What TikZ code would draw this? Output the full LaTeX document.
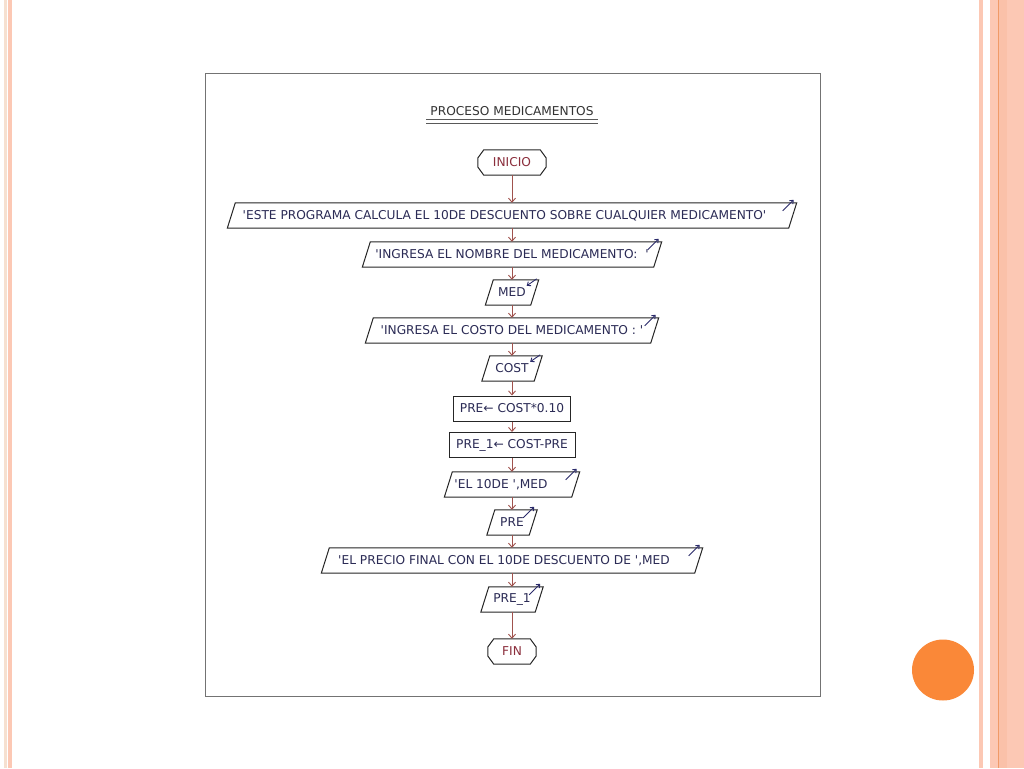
\documentclass[tikz,border=0pt]{standalone}
\usepackage{fontspec}
\setmainfont{DejaVu Sans}
\usetikzlibrary{arrows.meta}
\definecolor{flow}{HTML}{A0524D}
\definecolor{txt}{HTML}{2B2B55}
\definecolor{termc}{HTML}{8B2E3C}
\definecolor{iconc}{HTML}{2A2A6A}
\definecolor{salmon}{HTML}{FCC8B4}
\definecolor{beige}{HTML}{F6E0D0}
\definecolor{dotc}{HTML}{FA8838}
\definecolor{orline}{HTML}{F09A68}
\newcommand{\q}{\textquotesingle}
\begin{document}
\begin{tikzpicture}[x=1pt,y=-1pt,
 every node/.style={font=\fontsize{12.2}{14}\selectfont, text=txt, inner sep=0},
 box/.style={rectangle, minimum height=25},
 shapeline/.style={draw=black!85, line width=1},
 flowline/.style={draw=flow, line width=0.9, -{Straight Barb[length=4,width=7]}},
 outicon/.style={draw=iconc, line width=0.9, -{Straight Barb[length=3,width=5]}},
]
\useasboundingbox (0,0) rectangle (1024,768);
\fill[white] (0,0) rectangle (1024,768);
% slide borders
\fill[beige] (4,0) rectangle (7,768);
\fill[salmon] (8,0) rectangle (12,768);
\fill[salmon] (979,0) rectangle (983,768);
\fill[salmon] (990,0) rectangle (1024,768);
\fill[salmon!85!orline] (999,0) rectangle (1007,768);
\draw[orline, line width=0.8] (998.5,0) -- (998.5,768);
\fill[dotc] (943,670) ellipse (31 and 30.5);
% frame
\draw[black!55, line width=1] (205,73) rectangle (820,696);
% title
\node[text=black!80] (title) at (512,111) {PROCESO MEDICAMENTOS};
\draw[black!65, line width=1.3] ([shift={(-4,4)}]title.south west) -- ([shift={(4,4)}]title.south east);
\draw[black!65, line width=1.3] ([shift={(-4,7.5)}]title.south west) -- ([shift={(4,7.5)}]title.south east);
% nodes
\node[box, minimum width=68, text=termc] (ini) at (512,162.5) {INICIO};
\node[box, minimum width=569] (n1) at (512,215.5) {\q ESTE PROGRAMA CALCULA EL 10DE DESCUENTO SOBRE CUALQUIER MEDICAMENTO\q\hspace*{15pt}};
\node[box, minimum width=299] (n2) at (512,254.5) {\q INGRESA EL NOMBRE DEL MEDICAMENTO:\ \ \q};
\node[box, minimum width=53] (n3) at (512,292.5) {MED};
\node[box, minimum width=293] (n4) at (512,330.5) {\q INGRESA EL COSTO DEL MEDICAMENTO :\ \q};
\node[box, minimum width=60] (n5) at (512,368.5) {COST};
\node[box, shapeline, minimum width=117] (n6) at (512,408.5) {PRE← COST*0.10};
\node[box, shapeline, minimum width=126] (n7) at (512,445) {PRE\_1← COST-PRE};
\node[box, minimum width=135] (n8) at (512,484.5) {\q EL 10DE \q,MED\hspace*{22pt}};
\node[box, minimum width=50] (n9) at (512,522.5) {PRE};
\node[box, minimum width=381] (n10) at (512,560.5) {\q EL PRECIO FINAL CON EL 10DE DESCUENTO DE \q,MED\hspace*{16pt}};
\node[box, minimum width=62] (n11) at (512,599.5) {PRE\_1};
\node[box, minimum width=48, text=termc] (fin) at (512,651.5) {FIN};
% parallelogram outlines
\foreach \n in {n1,n2,n3,n4,n5,n8,n9,n10,n11}
  \draw[shapeline] (\n.south west) -- ([xshift=8]\n.north west) -- (\n.north east) -- ([xshift=-8]\n.south east) -- cycle;
% terminal outlines
\foreach \n in {ini,fin}
  \draw[shapeline] ([yshift=4.5]\n.west) -- ([xshift=6]\n.north west) -- ([xshift=-6]\n.north east) -- ([yshift=4.5]\n.east) -- ([yshift=-4.5]\n.east) -- ([xshift=-6]\n.south east) -- ([xshift=6]\n.south west) -- ([yshift=-4.5]\n.west) -- cycle;
% connectors
\foreach \a/\b in {ini/n1,n1/n2,n2/n3,n3/n4,n4/n5,n5/n6,n6/n7,n7/n8,n8/n9,n9/n10,n10/n11,n11/fin}
  \draw[flowline] (\a.south) -- (\b.north);
% output icons
\foreach \n in {n1,n2,n4,n8,n9,n10,n11}
  \draw[outicon] ([shift={(-14,8)}]\n.north east) -- ++(11,-11);
% input icons
\foreach \n in {n3,n5}
  \draw[outicon] ([shift={(-2,-1)}]\n.north east) -- ++(-10,7);
\end{tikzpicture}
\end{document}
